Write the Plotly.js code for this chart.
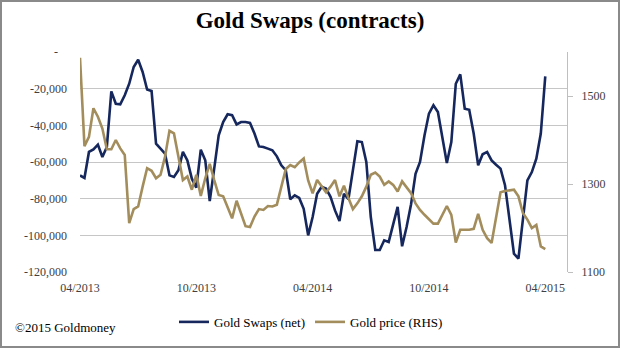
<!DOCTYPE html>
<html>
<head>
<meta charset="utf-8">
<script src="https://cdn.plot.ly/plotly-3.0.1.min.js"></script>
<style>
  html, body { margin: 0; padding: 0; background: #ffffff; }
  #wrap { position: relative; width: 620px; height: 348px; }
  #chart { width: 620px; height: 348px; }
  #frame { position: absolute; left: 0; top: 0; width: 620px; height: 348px;
           box-sizing: border-box; border: 2px solid #8a8a8a; pointer-events: none; }
</style>
</head>
<body>
<div id="wrap"><div id="chart"></div><div id="frame"></div></div>
<script>
// Weekly report dates
const dates = [
  "2013-04-02","2013-04-09","2013-04-16","2013-04-23","2013-04-30","2013-05-07","2013-05-14","2013-05-21","2013-05-28","2013-06-04",
  "2013-06-11","2013-06-18","2013-06-25","2013-07-02","2013-07-09","2013-07-16","2013-07-23","2013-07-30","2013-08-06","2013-08-13",
  "2013-08-20","2013-08-27","2013-09-03","2013-09-10","2013-09-17","2013-09-24","2013-10-01","2013-10-08","2013-10-15","2013-10-22",
  "2013-10-29","2013-11-05","2013-11-12","2013-11-19","2013-11-26","2013-12-03","2013-12-10","2013-12-17","2013-12-24","2013-12-31",
  "2014-01-07","2014-01-14","2014-01-21","2014-01-28","2014-02-04","2014-02-11","2014-02-18","2014-02-25","2014-03-04","2014-03-11",
  "2014-03-18","2014-03-25","2014-04-01","2014-04-08","2014-04-15","2014-04-22","2014-04-29","2014-05-06","2014-05-13","2014-05-20",
  "2014-05-27","2014-06-03","2014-06-10","2014-06-17","2014-06-24","2014-07-01","2014-07-08","2014-07-15","2014-07-22","2014-07-29",
  "2014-08-05","2014-08-12","2014-08-19","2014-08-26","2014-09-02","2014-09-09","2014-09-16","2014-09-23","2014-09-30","2014-10-07",
  "2014-10-14","2014-10-21","2014-10-28","2014-11-04","2014-11-11","2014-11-18","2014-11-25","2014-12-02","2014-12-09","2014-12-16",
  "2014-12-23","2014-12-30","2015-01-06","2015-01-13","2015-01-20","2015-01-27","2015-02-03","2015-02-10","2015-02-17","2015-02-24",
  "2015-03-03","2015-03-10","2015-03-17","2015-03-24","2015-03-31"
];

// Gold Swaps (net), contracts
const swapsNet = [
  -67300,-68700,-54500,-53100,-50500,-57300,-51800,-21500,-28200,-28500,
  -23600,-17300,-8200,-4200,-10900,-20500,-21300,-50000,-52700,-55400,
  -67300,-68200,-64500,-54500,-59100,-69100,-74000,-53300,-59100,-81300,
  -63600,-45500,-38200,-34000,-34500,-39500,-38200,-38200,-38700,-44500,
  -51500,-51800,-52700,-53600,-56900,-61800,-64500,-80300,-78200,-79600,
  -85500,-100000,-90000,-77300,-73600,-74500,-79000,-86400,-92200,-77300,
  -80300,-64500,-48700,-49100,-60000,-90000,-108000,-108000,-102700,-103600,
  -93600,-84500,-106000,-95500,-83000,-66400,-60000,-45500,-33600,-29000,
  -32700,-46400,-60500,-49100,-17300,-12200,-30900,-31500,-44500,-61800,
  -55800,-54500,-59100,-61500,-63600,-72700,-90000,-110000,-112700,-92000,
  -70000,-65500,-58200,-44500,-13300
];

// Gold price (RHS)
const goldPrice = [
  1587,1386,1407,1472,1453,1426,1379,1379,1400,1381,
  1366,1211,1243,1249,1294,1336,1330,1313,1321,1362,
  1421,1415,1362,1309,1317,1287,1321,1273,1313,1346,
  1309,1275,1272,1245,1222,1262,1234,1204,1202,1226,
  1243,1241,1250,1249,1253,1294,1334,1343,1338,1349,
  1358,1308,1279,1309,1294,1281,1294,1309,1272,1296,
  1268,1243,1256,1272,1294,1321,1326,1317,1298,1306,
  1298,1283,1306,1293,1279,1256,1241,1230,1219,1210,
  1210,1232,1250,1230,1167,1196,1196,1196,1198,1232,
  1196,1177,1166,1222,1281,1284,1285,1287,1272,1234,
  1219,1200,1207,1158,1152
];

const xTickVals = ["2013-04-02","2013-10-01","2014-04-01","2014-09-30","2015-03-31"];
const xTickText = ["04/2013","10/2013","04/2014","10/2014","04/2015"];
const yTickVals = [-120000,-100000,-80000,-60000,-40000,-20000,0];
const yTickText = ["-120,000","-100,000","-80,000","-60,000","-40,000","-20,000","-\u00a0\u00a0\u00a0"];
const y2TickVals = [1100,1300,1500];

const serif = "Liberation Serif, Times New Roman, serif";

const traces = [
  { x: dates, y: swapsNet, name: "Gold Swaps (net)", type: "scatter", mode: "lines",
    line: { color: "#15275c", width: 2.6 }, yaxis: "y" },
  { x: dates, y: goldPrice, name: "Gold price (RHS)", type: "scatter", mode: "lines",
    line: { color: "#a38d5c", width: 2.6 }, yaxis: "y2" }
];

const layout = {
  width: 620, height: 348,
  paper_bgcolor: "#ffffff", plot_bgcolor: "#ffffff",
  margin: { l: 80, r: 53, t: 52, b: 76, autoexpand: false },
  font: { family: serif, size: 12, color: "#404040" },
  title: { text: "<b>Gold Swaps (contracts)</b>", font: { family: serif, size: 23, color: "#000000" },
           x: 0.5, xanchor: "center", y: 0.942, yanchor: "middle", yref: "container" },
  xaxis: {
    type: "date", range: ["2013-04-02", "2015-05-04"],
    tickvals: xTickVals, ticktext: xTickText,
    showgrid: false, zeroline: false, showline: false, ticks: "",
    ticklabelstandoff: 7,
    tickfont: { family: serif, size: 12, color: "#404040" }
  },
  yaxis: {
    range: [-120000, 0], tickvals: yTickVals, ticktext: yTickText,
    showgrid: true, gridcolor: "#c6c6c6", gridwidth: 1,
    zeroline: false, showline: false, ticks: "",
    ticklabelstandoff: 12,
    tickfont: { family: serif, size: 12, color: "#404040" }
  },
  yaxis2: {
    overlaying: "y", side: "right", range: [1100, 1600], tickvals: y2TickVals,
    showgrid: false, zeroline: false, showline: true, linecolor: "#bfbfbf", linewidth: 1,
    ticks: "outside", ticklen: 5, tickcolor: "#bfbfbf",
    ticklabelstandoff: 6,
    tickfont: { family: serif, size: 12, color: "#404040" }
  },
  showlegend: true,
  legend: {
    orientation: "h", x: 0.193, xanchor: "left", y: -0.227, yanchor: "middle",
    font: { family: serif, size: 13, color: "#000000" },
    itemgap: 17, bgcolor: "rgba(0,0,0,0)"
  },
  annotations: [
    { text: "©2015 Goldmoney", xref: "paper", yref: "paper", x: -0.138, y: -0.25,
      xanchor: "left", yanchor: "middle", showarrow: false,
      font: { family: serif, size: 13, color: "#000000" } }
  ]
};

Plotly.newPlot("chart", traces, layout, { displayModeBar: false, staticPlot: true });
</script>
</body>
</html>
